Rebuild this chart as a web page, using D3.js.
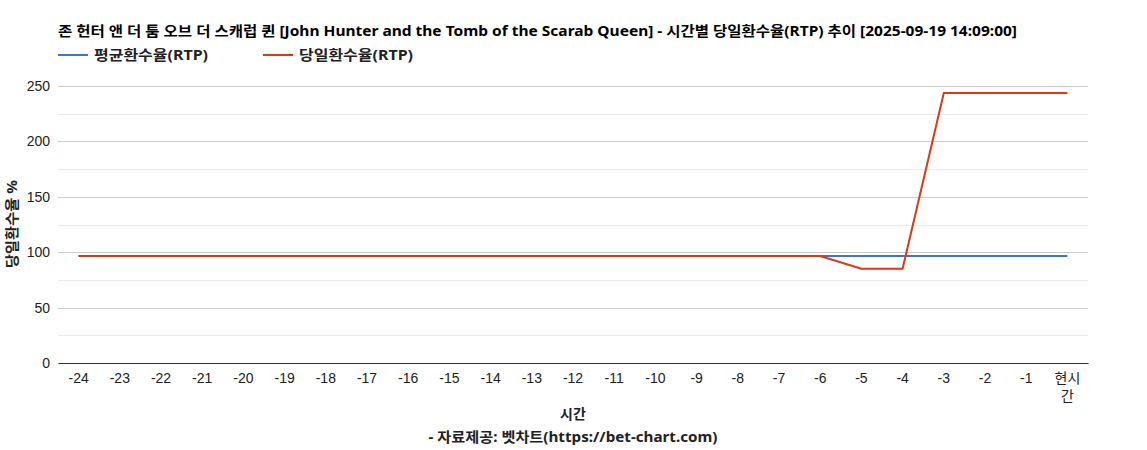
<!DOCTYPE html>
<html>
<head>
<meta charset="utf-8">
<script src="https://cdn.jsdelivr.net/npm/d3@7"></script>
<style>
  body { margin: 0; background: #fff; }
  text { font-family: "Noto Sans", "Noto Sans CJK KR", Arial, sans-serif; }
  .tick text { font-family: "Liberation Sans", Arial, "Noto Sans CJK KR", sans-serif; }
</style>
</head>
<body>
<script>
var width = 1147;
var height = 450;

// 시간 (x categories)
var hours = ["-24", "-23", "-22", "-21", "-20", "-19", "-18", "-17", "-16", "-15", "-14", "-13",
    "-12", "-11", "-10", "-9", "-8", "-7", "-6", "-5", "-4", "-3", "-2", "-1", "현시간"];

// 평균환수율(RTP)
var avgRtp = [96.6, 96.6, 96.6, 96.6, 96.6, 96.6, 96.6, 96.6, 96.6, 96.6, 96.6, 96.6,
    96.6, 96.6, 96.6, 96.6, 96.6, 96.6, 96.6, 96.6, 96.6, 96.6, 96.6, 96.6, 96.6];

// 당일환수율(RTP)
var dayRtp = [96.6, 96.6, 96.6, 96.6, 96.6, 96.6, 96.6, 96.6, 96.6, 96.6, 96.6, 96.6,
    96.6, 96.6, 96.6, 96.6, 96.6, 96.6, 96.6, 85, 85, 243.7, 243.7, 243.7, 243.7];

var yTicks = [0, 50, 100, 150, 200, 250];
var yMinor = [25, 75, 125, 175, 225];

var seriesNames = ["평균환수율(RTP)", "당일환수율(RTP)"];
var seriesColors = ["#3c73db", "#dc3912"];

var margin = {left: 58, right: 59, top: 86, bottom: 87};

var svg = d3.select("body")
    .append("svg")
    .attr("width", width)
    .attr("height", height);

var x = d3.scaleBand()
    .domain(hours)
    .range([margin.left, width - margin.right]);

var y = d3.scaleLinear()
    .domain([0, 250])
    .range([height - margin.bottom, margin.top]);

// minor gridlines
svg.append("g")
    .selectAll("line")
    .data(yMinor)
    .enter().append("line")
    .attr("x1", margin.left)
    .attr("x2", width - margin.right)
    .attr("y1", function(d) { return Math.round(y(d)) + 0.5; })
    .attr("y2", function(d) { return Math.round(y(d)) + 0.5; })
    .attr("stroke", "#ebebeb");

// major gridlines
svg.append("g")
    .selectAll("line")
    .data(yTicks.slice(1))
    .enter().append("line")
    .attr("x1", margin.left)
    .attr("x2", width - margin.right)
    .attr("y1", function(d) { return Math.round(y(d)) + 0.5; })
    .attr("y2", function(d) { return Math.round(y(d)) + 0.5; })
    .attr("stroke", "#cccccc");

// y axis labels
var yAxis = svg.append("g")
    .attr("transform", "translate(" + margin.left + ",0)")
    .call(d3.axisLeft(y).tickValues(yTicks).tickSize(0).tickPadding(8));
yAxis.select(".domain").remove();
yAxis.selectAll("text").attr("font-size", 14).attr("fill", "#222");

// x axis
var xAxis = svg.append("g")
    .attr("transform", "translate(0," + (height - margin.bottom) + ")")
    .call(d3.axisBottom(x).tickSize(0).tickPadding(10));
xAxis.select(".domain").attr("stroke", "#333");
xAxis.selectAll("text").attr("font-size", 14).attr("fill", "#222")
    .each(function(d) {
        if (d === "현시간") {
            var t = d3.select(this).text(null);
            t.append("tspan").attr("x", 0).attr("dy", "0.71em").text("현시");
            t.append("tspan").attr("x", 0).attr("dy", "1.3em").text("간");
        }
    });

// lines
var line = d3.line()
    .x(function(d, i) { return x(hours[i]) + x.bandwidth() / 2; })
    .y(function(d) { return y(d); });

svg.append("path")
    .datum(avgRtp)
    .attr("fill", "none")
    .attr("stroke", seriesColors[0])
    .attr("stroke-width", 2)
    .attr("d", line);

svg.append("path")
    .datum(dayRtp)
    .attr("fill", "none")
    .attr("stroke", seriesColors[1])
    .attr("stroke-width", 2)
    .attr("d", line);

// title
svg.append("text")
    .attr("x", 58)
    .attr("y", 36)
    .attr("font-size", 14)
    .attr("font-weight", "bold")
    .attr("fill", "#000")
    .attr("textLength", 959)
    .attr("lengthAdjust", "spacingAndGlyphs")
    .text("존 헌터 앤 더 툼 오브 더 스캐럽 퀸 [John Hunter and the Tomb of the Scarab Queen] - 시간별 당일환수율(RTP) 추이 [2025-09-19 14:09:00]");

// legend
var legendX = [58, 263];
var legend = svg.append("g")
    .selectAll("g")
    .data(seriesNames)
    .enter().append("g")
    .attr("transform", function(d, i) { return "translate(" + legendX[i] + ",55)"; });
legend.append("line")
    .attr("x1", 0).attr("x2", 30)
    .attr("y1", 0).attr("y2", 0)
    .attr("stroke", function(d, i) { return seriesColors[i]; })
    .attr("stroke-width", 2);
legend.append("text")
    .attr("x", 36)
    .attr("y", 5)
    .attr("font-size", 14)
    .attr("font-weight", "bold")
    .attr("fill", "#222")
    .attr("textLength", 114)
    .attr("lengthAdjust", "spacingAndGlyphs")
    .text(function(d) { return d; });

// y axis title
svg.append("text")
    .attr("transform", "translate(17,224) rotate(-90)")
    .attr("text-anchor", "middle")
    .attr("font-size", 14)
    .attr("font-weight", "bold")
    .attr("fill", "#222")
    .attr("textLength", 88)
    .attr("lengthAdjust", "spacingAndGlyphs")
    .text("당일환수율 %");

// x axis title
svg.append("text")
    .attr("x", 573)
    .attr("y", 419)
    .attr("text-anchor", "middle")
    .attr("font-size", 14)
    .attr("font-weight", "bold")
    .attr("fill", "#222")
    .text("시간");

svg.append("text")
    .attr("x", 573)
    .attr("y", 442)
    .attr("text-anchor", "middle")
    .attr("font-size", 14)
    .attr("font-weight", "bold")
    .attr("fill", "#222")
    .attr("textLength", 289)
    .attr("lengthAdjust", "spacingAndGlyphs")
    .text("- 자료제공: 벳차트(https://bet-chart.com)");
</script>
</body>
</html>
